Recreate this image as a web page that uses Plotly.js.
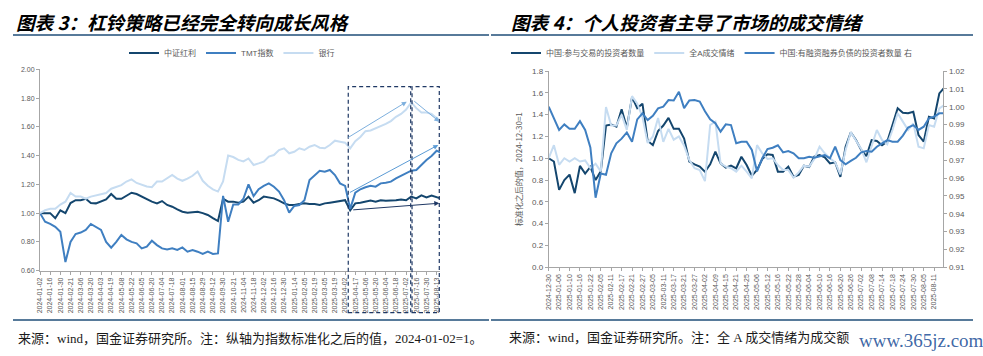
<!DOCTYPE html>
<html><head><meta charset="utf-8">
<script src="https://cdn.plot.ly/plotly-3.0.1.min.js"></script>
<style>html,body{margin:0;padding:0;background:#fff;overflow:hidden}#chart{width:983px;height:356px}</style>
</head><body><div id="chart"></div>
<script>
// ---------- Chart 3 (left): index normalised, 2024-01-02 = 1 ----------
const leftTicks = ['2024-01-02','2024-01-16','2024-01-30','2024-02-21','2024-03-06','2024-03-20','2024-04-03','2024-04-19','2024-05-08','2024-05-22','2024-06-05','2024-06-20','2024-07-04','2024-07-18','2024-08-01','2024-08-15','2024-08-29','2024-09-12','2024-09-30','2024-10-21','2024-11-04','2024-11-18','2024-12-02','2024-12-16','2024-12-30','2025-01-14','2025-02-05','2025-02-19','2025-03-05','2025-03-19','2025-04-02','2025-04-17','2025-05-06','2025-05-20','2025-06-04','2025-06-18','2025-07-02','2025-07-16','2025-07-30','2025-08-13'];
// two samples per tick interval (every 5 trading days)
const dividend = [1.00,1.00,1.00,0.965,1.02,1.00,1.07,1.09,1.09,1.10,
  1.07,1.068,1.08,1.095,1.133,1.10,1.10,1.12,1.142,1.133,
  1.115,1.095,1.08,1.068,1.084,1.057,1.045,1.026,1.01,1.003,
  1.005,1.01,1.00,0.987,0.965,0.945,1.10,1.08,1.08,1.073,
  1.08,1.115,1.073,1.09,1.115,1.11,1.103,1.087,1.068,1.057,
  1.057,1.063,1.068,1.063,1.063,1.057,1.068,1.073,1.08,1.087,
  1.09,1.02,1.068,1.073,1.08,1.087,1.08,1.09,1.087,1.087,
  1.09,1.095,1.09,1.115,1.103,1.124,1.11,1.122,1.11,1.10];
const tmt = [1.00,0.94,0.925,0.905,0.87,0.66,0.80,0.855,0.865,0.883,
  0.925,0.905,0.883,0.80,0.76,0.80,0.848,0.818,0.80,0.79,
  0.755,0.767,0.808,0.778,0.755,0.748,0.755,0.744,0.762,0.732,
  0.744,0.732,0.716,0.732,0.716,0.72,1.12,0.94,1.06,1.06,
  1.10,1.20,1.119,1.166,1.19,1.207,1.184,1.15,1.09,1.003,
  1.05,1.057,1.09,1.23,1.265,1.295,1.288,1.30,1.265,1.207,
  1.19,1.03,1.142,1.166,1.18,1.19,1.184,1.207,1.212,1.219,
  1.242,1.258,1.277,1.295,1.30,1.335,1.37,1.397,1.434,1.416];
const bank = [1.00,1.02,1.03,1.03,1.06,1.08,1.14,1.115,1.115,1.10,
  1.115,1.125,1.13,1.14,1.17,1.18,1.195,1.22,1.235,1.21,
  1.195,1.185,1.18,1.22,1.22,1.24,1.265,1.24,1.225,1.24,
  1.26,1.29,1.225,1.19,1.165,1.15,1.22,1.40,1.39,1.37,
  1.36,1.38,1.335,1.346,1.358,1.393,1.404,1.439,1.451,1.416,
  1.427,1.451,1.439,1.462,1.474,1.455,1.451,1.474,1.504,1.497,
  1.49,1.45,1.50,1.53,1.57,1.575,1.59,1.60,1.62,1.64,
  1.67,1.69,1.72,1.77,1.73,1.70,1.70,1.69,1.66,1.64];

// ---------- Chart 4 (right): normalised, 2024-12-30 = 1 ----------
const rightTicks = ['2024-12-30','2025-01-06','2025-01-10','2025-01-16','2025-01-22','2025-02-05','2025-02-11','2025-02-17','2025-02-21','2025-02-27','2025-03-05','2025-03-11','2025-03-17','2025-03-21','2025-03-27','2025-04-02','2025-04-09','2025-04-15','2025-04-21','2025-04-25','2025-05-06','2025-05-12','2025-05-16','2025-05-22','2025-05-28','2025-06-04','2025-06-10','2025-06-16','2025-06-20','2025-06-26','2025-07-02','2025-07-08','2025-07-14','2025-07-18','2025-07-24','2025-07-30','2025-08-05','2025-08-11'];
// two samples per tick interval (every 2 trading days)
const investors = [1.00,0.97,0.71,0.80,0.85,0.68,0.93,0.86,0.92,0.80,
  0.88,1.30,1.31,1.29,1.45,1.28,1.56,1.46,1.50,1.16,
  1.12,1.25,1.30,1.37,1.27,1.27,1.18,0.97,0.944,0.923,
  0.877,0.944,1.06,0.953,0.914,0.932,0.908,1.014,0.938,0.84,
  0.892,0.993,1.036,1.03,0.877,0.877,0.923,0.83,0.846,0.932,
  0.92,1.015,1.03,1.008,0.953,0.963,0.83,1.106,1.238,1.167,
  1.076,1.02,1.167,1.158,1.12,1.152,1.305,1.458,1.418,1.412,
  1.427,1.213,1.152,1.381,1.366,1.595,1.65];
const sentiment = [1.00,1.12,0.94,1.00,0.97,1.00,0.97,0.98,0.91,0.95,
  0.88,1.47,1.30,1.30,1.40,1.26,1.57,1.50,1.38,1.14,
  1.20,1.37,1.15,1.27,1.17,1.20,1.115,0.984,0.908,0.892,
  0.79,1.305,1.336,0.953,0.923,0.908,0.877,0.932,0.877,0.816,
  1.12,1.045,0.993,1.00,0.938,0.892,0.892,0.822,0.87,0.932,
  0.923,0.993,1.106,1.045,1.00,0.963,0.853,1.076,1.238,1.158,
  1.085,0.963,1.12,1.259,1.167,1.128,1.259,1.412,1.336,1.259,
  1.32,1.106,1.091,1.305,1.29,1.458,1.49];
const marginInvestors = [1.0000,0.9937,0.9870,0.9901,0.9876,0.9876,0.9919,0.9870,0.9772,0.9490,
  0.9626,0.9619,0.9739,0.9795,0.9821,0.9856,0.9804,0.9929,0.9963,0.9925,
  0.9949,0.9991,1.0000,1.0037,1.0035,1.0084,0.9992,1.0035,1.0037,1.0029,
  0.9974,0.9929,0.9907,0.9860,0.9901,0.9897,0.9795,0.9804,0.9804,0.9758,
  0.9638,0.9711,0.9763,0.9770,0.9784,0.9744,0.9751,0.9739,0.9711,0.9711,
  0.9720,0.9714,0.9720,0.9729,0.9711,0.9776,0.9701,0.9677,0.9696,0.9714,
  0.9744,0.9752,0.9748,0.9776,0.9795,0.9813,0.9804,0.9804,0.9838,0.9883,
  0.9897,0.9870,0.9888,0.9935,0.9944,0.9963,0.9963];

const PER_TICK = 2;
const xL = dividend.map((_, i) => i / PER_TICK);
const xR = investors.map((_, i) => i / PER_TICK);

const C_DARK = '#14466E', C_MID = '#3F7FC1', C_LIGHT = '#C6DCF1';
const GREY = '#595959', AXIS = '#A6A6A6';
const tickFont = {family: 'Liberation Sans, Arial', size: 7, color: GREY};
const legFont = {family: 'Liberation Sans, Noto Sans CJK SC', size: 8, color: GREY};

const traces = [
  {x: xL, y: dividend, name: '中证红利', type: 'scatter', mode: 'lines', line: {color: C_DARK, width: 2}, xaxis: 'x', yaxis: 'y', legend: 'legend'},
  {x: xL, y: tmt, name: 'TMT指数', type: 'scatter', mode: 'lines', line: {color: C_MID, width: 2}, xaxis: 'x', yaxis: 'y', legend: 'legend'},
  {x: xL, y: bank, name: '银行', type: 'scatter', mode: 'lines', line: {color: C_LIGHT, width: 2}, xaxis: 'x', yaxis: 'y', legend: 'legend'},
  {x: xR, y: investors, name: '中国:参与交易的投资者数量', type: 'scatter', mode: 'lines', line: {color: C_DARK, width: 2}, xaxis: 'x2', yaxis: 'y2', legend: 'legend2'},
  {x: xR, y: sentiment, name: '全A成交情绪', type: 'scatter', mode: 'lines', line: {color: C_LIGHT, width: 2}, xaxis: 'x2', yaxis: 'y2', legend: 'legend2'},
  {x: xR, y: marginInvestors, name: '中国:有融资融券负债的投资者数量 右', type: 'scatter', mode: 'lines', line: {color: C_MID, width: 2}, xaxis: 'x2', yaxis: 'y3', legend: 'legend2'}
];

const W = 983, H = 356;
const px = v => v / W, py = v => 1 - v / H;

const baseX = {showline: true, linecolor: AXIS, linewidth: 1, ticks: 'outside', ticklen: 3, tickcolor: AXIS,
  showgrid: false, zeroline: false, tickangle: -90, tickfont: tickFont, fixedrange: true};
const baseY = {showline: true, linecolor: AXIS, linewidth: 1, ticks: 'outside', ticklen: 3, tickcolor: AXIS,
  showgrid: false, zeroline: false, tickfont: Object.assign({}, tickFont), fixedrange: true};

const layout = {
  width: W, height: H, margin: {l: 0, r: 0, t: 0, b: 0},
  paper_bgcolor: '#fff', plot_bgcolor: '#fff', showlegend: true,
  font: {family: 'Liberation Sans, Noto Sans CJK SC', color: GREY},
  xaxis: Object.assign({}, baseX, {domain: [px(40), px(440)], range: [0, 39.33], anchor: 'y',
    tickvals: leftTicks.map((_, i) => i), ticktext: leftTicks}),
  yaxis: Object.assign({}, baseY, {domain: [py(270.7), py(69.3)], range: [0.5999, 2.0001], anchor: 'x',
    tickvals: [0.6, 0.8, 1.0, 1.2, 1.4, 1.6, 1.8, 2.0], tickformat: '.2f'}),
  xaxis2: Object.assign({}, baseX, {domain: [px(548.7), px(943.3)], range: [0, 37.88], anchor: 'y2',
    tickvals: rightTicks.map((_, i) => i), ticktext: rightTicks}),
  yaxis2: Object.assign({}, baseY, {domain: [py(267.3), py(71)], range: [0, 1.8001], anchor: 'x2',
    tickvals: [0, 0.2, 0.4, 0.6, 0.8, 1.0, 1.2, 1.4, 1.6, 1.8], tickformat: '.1f',
    tickfont: {family: 'Liberation Sans, Arial', size: 8, color: GREY},
    title: {text: '标准化之后的值，2024-12-30=1', standoff: 8, font: {family: 'Noto Sans CJK SC', size: 8, color: GREY}}}),
  yaxis3: Object.assign({}, baseY, {overlaying: 'y2', side: 'right', anchor: 'x2', range: [0.91, 1.02001],
    tickvals: [0.91, 0.92, 0.93, 0.94, 0.95, 0.96, 0.97, 0.98, 0.99, 1.00, 1.01, 1.02], tickformat: '.2f',
    tickfont: {family: 'Liberation Sans, Arial', size: 8, color: GREY}}),
  legend: {orientation: 'h', x: px(232), xanchor: 'center', y: py(53), yanchor: 'middle', font: legFont,
    bgcolor: 'rgba(0,0,0,0)', itemwidth: 30, tracegroupgap: 0},
  legend2: {orientation: 'h', x: px(712), xanchor: 'center', y: py(53), yanchor: 'middle', font: legFont,
    bgcolor: 'rgba(0,0,0,0)', itemwidth: 30, tracegroupgap: 0},
  shapes: [
    {type: 'line', xref: 'paper', yref: 'paper', x0: px(13), x1: px(489), y0: py(35), y1: py(35), line: {color: '#1F4E79', width: 1.5}},
    {type: 'line', xref: 'paper', yref: 'paper', x0: px(491), x1: px(973), y0: py(35), y1: py(35), line: {color: '#1F4E79', width: 1.5}},
    {type: 'line', xref: 'paper', yref: 'paper', x0: px(13), x1: px(489), y0: py(320), y1: py(320), line: {color: '#1F4E79', width: 1.5}},
    {type: 'line', xref: 'paper', yref: 'paper', x0: px(491), x1: px(973), y0: py(320), y1: py(320), line: {color: '#1F4E79', width: 1.5}},
    {type: 'rect', xref: 'x', yref: 'paper', x0: 30.31, x1: 36.45, y0: py(312.7), y1: py(86.7), line: {color: '#1F3864', width: 1.2, dash: '4px,3px'}},
    {type: 'rect', xref: 'x', yref: 'paper', x0: 36.58, x1: 39.26, y0: py(312.7), y1: py(86.7), line: {color: '#1F3864', width: 1.2, dash: '4px,3px'}}
  ],
  annotations: [
    {xref: 'paper', yref: 'paper', x: px(14), y: py(21.5), xanchor: 'left', yanchor: 'middle', showarrow: false,
      text: '图表 3：杠铃策略已经完全转向成长风格', font: {family: 'Noto Sans CJK SC', size: 18.6, color: '#000', weight: 'bold', style: 'italic'}},
    {xref: 'paper', yref: 'paper', x: px(509), y: py(21.5), xanchor: 'left', yanchor: 'middle', showarrow: false,
      text: '图表 4：个人投资者主导了市场的成交情绪', font: {family: 'Noto Sans CJK SC', size: 18.6, color: '#000', weight: 'bold', style: 'italic'}},
    {xref: 'paper', yref: 'paper', x: px(16), y: py(338), xanchor: 'left', yanchor: 'middle', showarrow: false,
      text: '来源：wind，国金证券研究所。注：纵轴为指数标准化之后的值，2024-01-02=1。', font: {family: 'Liberation Serif, Noto Sans CJK SC', size: 13, color: '#1a1a1a'}},
    {xref: 'paper', yref: 'paper', x: px(507), y: py(337), xanchor: 'left', yanchor: 'middle', showarrow: false,
      text: '来源：wind，国金证券研究所。注：全 A 成交情绪为成交额', font: {family: 'Liberation Serif, Noto Sans CJK SC', size: 13, color: '#1a1a1a'}},
    {xref: 'paper', yref: 'paper', x: px(857), y: py(340), xanchor: 'left', yanchor: 'middle', showarrow: false,
      text: 'www.365jz.com', font: {family: 'Liberation Serif', size: 19, color: 'rgba(40,85,155,0.9)'}},
    // trend arrows
    {xref: 'x', yref: 'y', axref: 'x', ayref: 'y', x: 36.06, y: 1.775, ax: 30.16, ay: 1.52, text: '', showarrow: true,
      arrowhead: 2, arrowsize: 1, arrowwidth: 1, arrowcolor: '#7EB0DE', standoff: 0},
    {xref: 'x', yref: 'y', axref: 'x', ayref: 'y', x: 39.26, y: 1.636, ax: 36.65, ay: 1.787, text: '', showarrow: true,
      arrowhead: 2, arrowsize: 1, arrowwidth: 1, arrowcolor: '#7EB0DE', standoff: 0},
    {xref: 'x', yref: 'y', axref: 'x', ayref: 'y', x: 39.16, y: 1.474, ax: 30.32, ay: 1.138, text: '', showarrow: true,
      arrowhead: 2, arrowsize: 1, arrowwidth: 1, arrowcolor: '#5B9BD5', standoff: 0},
    {xref: 'x', yref: 'y', axref: 'x', ayref: 'y', x: 39.26, y: 1.069, ax: 30.65, ay: 1.022, text: '', showarrow: true,
      arrowhead: 2, arrowsize: 1, arrowwidth: 1, arrowcolor: '#1F3864', standoff: 0}
  ]
};

Plotly.newPlot('chart', traces, layout, {displayModeBar: false, staticPlot: true});
</script></body></html>
